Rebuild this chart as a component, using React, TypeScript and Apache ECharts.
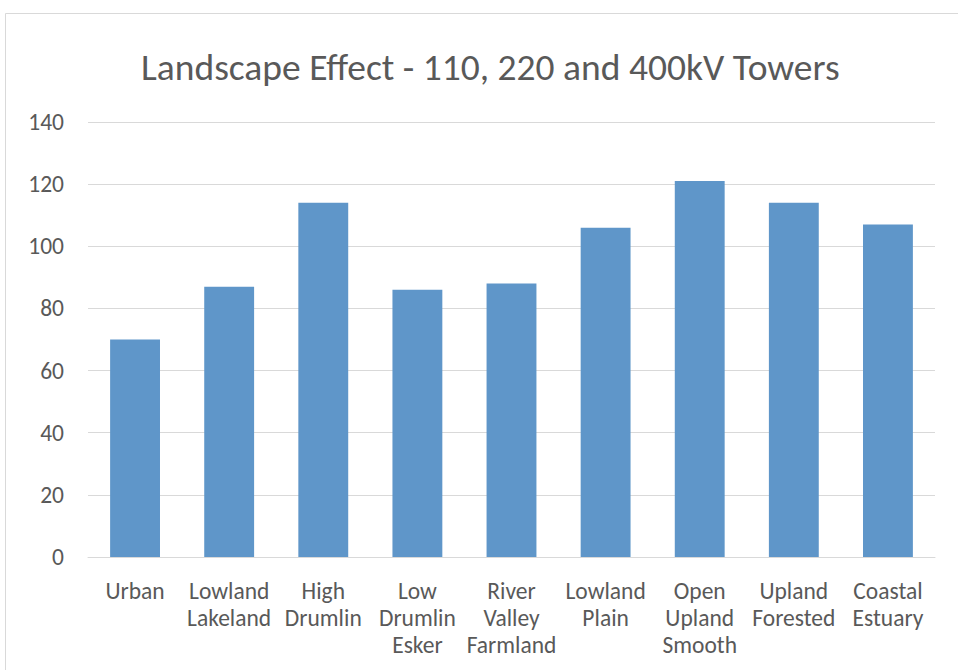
import React, { useEffect, useRef } from "react";
import * as echarts from "echarts";

const categories = [
  "Urban",
  "Lowland\nLakeland",
  "High\nDrumlin",
  "Low\nDrumlin\nEsker",
  "River\nValley\nFarmland",
  "Lowland\nPlain",
  "Open\nUpland\nSmooth",
  "Upland\nForested",
  "Coastal\nEstuary",
];
const values = [70, 87, 114, 86, 88, 106, 121, 114, 107];
const yTicks = { min: 0, max: 140, interval: 20 };

const FONT = "Carlito, Calibri, Lato, sans-serif";

export default function App() {
  const ref = useRef<HTMLDivElement>(null);

  useEffect(() => {
    document.body.style.margin = "0";
    const chart = echarts.init(ref.current!, null, { renderer: "svg" });
    chart.setOption({
      animation: false,
      backgroundColor: "#ffffff",
      title: {
        text: "Landscape Effect - 110, 220 and 400kV Towers",
        left: 136,
        top: 43,
        textStyle: {
          fontFamily: FONT,
          fontSize: 37.5,
          fontWeight: "normal",
          color: "#595959",
        },
      },
      graphic: [
        {
          type: "rect",
          shape: { x: 5.5, y: 13.5, width: 980, height: 700 },
          style: { fill: "none", stroke: "#d9d9d9", lineWidth: 1 },
          silent: true,
        },
      ],
      grid: { left: 88, right: 23, top: 122, bottom: 113, containLabel: false },
      xAxis: {
        type: "category",
        data: categories,
        axisLine: { lineStyle: { color: "#d9d9d9", width: 1 } },
        axisTick: { show: false },
        axisLabel: {
          interval: 0,
          margin: 20,
          fontFamily: FONT,
          fontSize: 23.5,
          color: "#595959",
          lineHeight: 27,
        },
      },
      yAxis: {
        type: "value",
        min: yTicks.min,
        max: yTicks.max,
        interval: yTicks.interval,
        axisLine: { show: false },
        axisTick: { show: false },
        splitLine: { lineStyle: { color: "#d9d9d9", width: 1 } },
        axisLabel: {
          margin: 24,
          fontFamily: FONT,
          fontSize: 23.5,
          color: "#595959",
        },
      },
      series: [
        {
          type: "bar",
          data: values,
          barWidth: "53%",
          itemStyle: { color: "#5f96c9" },
        },
      ],
    });
    return () => chart.dispose();
  }, []);

  return (
    <div
      ref={ref}
      style={{ position: "absolute", left: 0, top: 0, width: 958, height: 670 }}
    />
  );
}
